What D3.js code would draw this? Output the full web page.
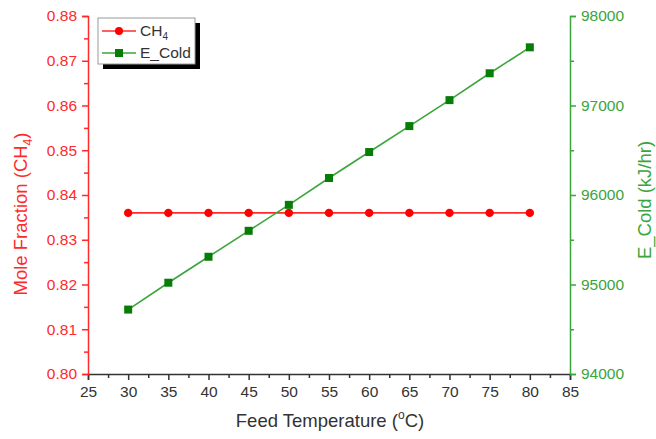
<!DOCTYPE html>
<html lang="en">
<head>
<meta charset="utf-8">
<title>Mole fraction and E_Cold vs feed temperature</title>
<script src="https://cdn.jsdelivr.net/npm/d3@7/dist/d3.min.js"></script>
<style>
  body { margin: 0; background: #fff; }
  text { font-family: "Liberation Sans", Arial, sans-serif; }
</style>
</head>
<body>
<script>
// data
var temps = [30, 35, 40, 45, 50, 55, 60, 65, 70, 75, 80];
var ch4 = [0.836, 0.836, 0.836, 0.836, 0.836, 0.836, 0.836, 0.836, 0.836, 0.836, 0.836];
var eCold = [94720, 95020, 95310, 95600, 95890, 96190, 96480, 96770, 97060, 97360, 97650];
var xTicks = [25, 30, 35, 40, 45, 50, 55, 60, 65, 70, 75, 80, 85];
var leftTicks = [0.80, 0.81, 0.82, 0.83, 0.84, 0.85, 0.86, 0.87, 0.88];
var rightTicks = [94000, 95000, 96000, 97000, 98000];

var w = 656, h = 439;
var red = "#ff2a2a", green = "#3aa53a", darkGreen = "#067d06";

var svg = d3.select("body").append("svg").attr("width", w).attr("height", h);

var x = d3.scaleLinear().domain([25, 85]).range([88, 570]);
var yL = d3.scaleLinear().domain([0.80, 0.88]).range([374, 16]);
var yR = d3.scaleLinear().domain([94000, 98000]).range([374, 16]);

// minor ticks
var xMinor = d3.range(27.5, 85, 5);
var lMinor = d3.range(0.805, 0.88, 0.01);
var rMinor = d3.range(94500, 98000, 1000);

var gx = svg.append("g").attr("transform", "translate(0,374)");
gx.call(d3.axisBottom(x).tickValues(xTicks).tickSize(6).tickPadding(6).tickFormat(d3.format("d")));
gx.append("g").call(d3.axisBottom(x).tickValues(xMinor).tickSize(4).tickFormat(""))
  .select(".domain").remove();
gx.selectAll("path, line").attr("stroke", "#333").attr("stroke-width", 1.5);
gx.selectAll("text").attr("fill", "#333").attr("font-size", 15.5);

var gl = svg.append("g").attr("transform", "translate(88,0)");
gl.call(d3.axisLeft(yL).tickValues(leftTicks).tickSize(6).tickPadding(5).tickFormat(d3.format(".2f")));
gl.append("g").call(d3.axisLeft(yL).tickValues(lMinor).tickSize(4).tickFormat(""))
  .select(".domain").remove();
gl.selectAll("path, line").attr("stroke", red).attr("stroke-width", 1.5);
gl.selectAll("text").attr("fill", red).attr("font-size", 15.5);

var gr = svg.append("g").attr("transform", "translate(570,0)");
gr.call(d3.axisRight(yR).tickValues(rightTicks).tickSize(6).tickPadding(5).tickFormat(d3.format("d")));
gr.append("g").call(d3.axisRight(yR).tickValues(rMinor).tickSize(4).tickFormat(""))
  .select(".domain").remove();
gr.selectAll("path, line").attr("stroke", green).attr("stroke-width", 1.5);
gr.selectAll("text").attr("fill", green).attr("font-size", 15.5);

// axis titles
var xt = svg.append("text").attr("x", 330).attr("y", 427).attr("text-anchor", "middle")
  .attr("font-size", 18.5).attr("fill", "#333");
xt.append("tspan").text("Feed Temperature (");
xt.append("tspan").text("o").attr("font-size", 12).attr("dy", -8);
xt.append("tspan").text("C)").attr("dy", 8);

var lt = svg.append("text").attr("transform", "translate(27,214) rotate(-90)")
  .attr("text-anchor", "middle").attr("font-size", 18.5).attr("fill", red);
lt.append("tspan").text("Mole Fraction (CH");
lt.append("tspan").text("4").attr("font-size", 12).attr("dy", 5);
lt.append("tspan").text(")").attr("dy", -5);

svg.append("text").attr("transform", "translate(651,200) rotate(-90)")
  .attr("text-anchor", "middle").attr("font-size", 18.5).attr("fill", green)
  .text("E_Cold (kJ/hr)");

// lines
var lineL = d3.line().x(function(d, i) { return x(temps[i]); }).y(function(d) { return yL(d); });
var lineR = d3.line().x(function(d, i) { return x(temps[i]); }).y(function(d) { return yR(d); });

svg.append("path").datum(ch4).attr("d", lineL).attr("fill", "none")
  .attr("stroke", red).attr("stroke-width", 1.6);
svg.selectAll("circle.ch4").data(ch4).enter().append("circle").attr("class", "ch4")
  .attr("cx", function(d, i) { return x(temps[i]); })
  .attr("cy", function(d) { return yL(d); })
  .attr("r", 4.2).attr("fill", "#ff0000");

svg.append("path").datum(eCold).attr("d", lineR).attr("fill", "none")
  .attr("stroke", green).attr("stroke-width", 1.6);
svg.selectAll("rect.ec").data(eCold).enter().append("rect").attr("class", "ec")
  .attr("x", function(d, i) { return x(temps[i]) - 4; })
  .attr("y", function(d) { return yR(d) - 4; })
  .attr("width", 8).attr("height", 8).attr("fill", darkGreen);

// legend
var lg = svg.append("g").attr("transform", "translate(98,18)");
lg.append("rect").attr("x", 5).attr("y", 5).attr("width", 97).attr("height", 46).attr("fill", "#000");
lg.append("rect").attr("x", 0).attr("y", 0).attr("width", 97).attr("height", 46)
  .attr("fill", "#fff").attr("stroke", "#999").attr("stroke-width", 1);
lg.append("line").attr("x1", 4).attr("x2", 38).attr("y1", 13).attr("y2", 13)
  .attr("stroke", red).attr("stroke-width", 1.6);
lg.append("circle").attr("cx", 21).attr("cy", 13).attr("r", 4).attr("fill", "#ff0000");
var t1 = lg.append("text").attr("x", 42).attr("y", 18).attr("font-size", 15.5).attr("fill", "#333");
t1.append("tspan").text("CH");
t1.append("tspan").text("4").attr("font-size", 10).attr("dy", 4);
lg.append("line").attr("x1", 4).attr("x2", 38).attr("y1", 35).attr("y2", 35)
  .attr("stroke", green).attr("stroke-width", 1.6);
lg.append("rect").attr("x", 17).attr("y", 31).attr("width", 8).attr("height", 8).attr("fill", darkGreen);
lg.append("text").attr("x", 42).attr("y", 40).attr("font-size", 15.5).attr("fill", "#333").text("E_Cold");
</script>
</body>
</html>
